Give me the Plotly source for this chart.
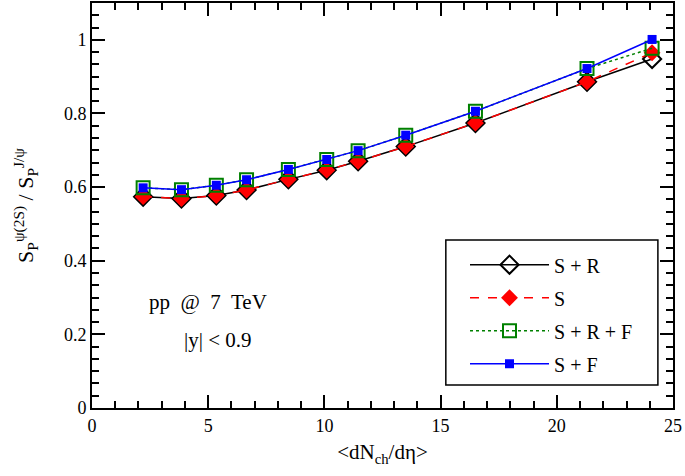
import plotly.graph_objects as go

dnch = [2.2, 3.85, 5.35, 6.65, 8.45, 10.1, 11.45, 13.5, 16.5, 21.3, 24.1]
s_r = [0.574, 0.569, 0.577, 0.592, 0.621, 0.646, 0.670, 0.710, 0.774, 0.886, 0.948]
s_only = [0.574, 0.569, 0.577, 0.592, 0.621, 0.646, 0.670, 0.710, 0.774, 0.886, 0.965]
s_r_f = [0.598, 0.593, 0.605, 0.620, 0.648, 0.675, 0.699, 0.741, 0.806, 0.922, 0.977]
s_f = [0.598, 0.593, 0.605, 0.620, 0.648, 0.675, 0.699, 0.741, 0.806, 0.922, 1.001]

names = ["S + R", "S", "S + R + F", "S + F"]

FONT = "Liberation Serif"

fig = go.Figure()
fig.add_trace(go.Scatter(x=dnch, y=s_r, name=names[0], mode="lines+markers",
                         line=dict(color="black", width=1.5),
                         marker=dict(symbol="diamond-open", size=14, color="black", line=dict(width=2)),
                         legendgroup="a"))
fig.add_trace(go.Scatter(x=dnch, y=s_only, name=names[1], mode="lines+markers",
                         line=dict(color="red", width=1.5, dash="dash"),
                         marker=dict(symbol="diamond", size=13, color="red"),
                         legendgroup="b"))
fig.add_trace(go.Scatter(x=dnch, y=s_r_f, name=names[2], mode="lines+markers",
                         line=dict(color="green", width=1.5, dash="dot"),
                         marker=dict(symbol="square-open", size=13, color="green", line=dict(width=2)),
                         legendgroup="c"))
fig.add_trace(go.Scatter(x=dnch, y=s_f, name=names[3], mode="lines+markers",
                         line=dict(color="blue", width=1.5),
                         marker=dict(symbol="square", size=9, color="blue"),
                         legendgroup="d"))

axis_common = dict(
    showgrid=False, zeroline=False, showline=True, linecolor="black", linewidth=2,
    mirror="allticks", ticks="inside", ticklen=13, tickwidth=2, tickcolor="black",
    tickfont=dict(family=FONT, size=18, color="black"), automargin=False,
)

fig.update_xaxes(range=[0, 25], dtick=5, tick0=0,
                 minor=dict(dtick=1, ticks="inside", ticklen=7, tickwidth=2, tickcolor="black"),
                 title=dict(text="&lt;dN<sub>ch</sub>/dη&gt;", font=dict(family=FONT, size=21, color="black"),
                            standoff=10),
                 **axis_common)
fig.update_yaxes(range=[0, 1.1], dtick=0.2, tick0=0, tickformat="~g",
                 minor=dict(dtick=0.2/6, ticks="inside", ticklen=7, tickwidth=2, tickcolor="black"),
                 title=dict(text="S<sub>P</sub><sup>ψ(2S)</sup> / S<sub>P</sub><sup>J/ψ</sup>",
                            font=dict(family=FONT, size=22, color="black"), standoff=24),
                 **axis_common)

fig.add_annotation(text="pp&nbsp; @&nbsp; 7&nbsp; TeV", x=2.37, y=0.288, xref="x", yref="y", showarrow=False,
                   font=dict(family=FONT, size=21, color="black"), xanchor="left")
fig.add_annotation(text="|y| &lt; 0.9", x=3.86, y=0.185, xref="x", yref="y", showarrow=False,
                   font=dict(family=FONT, size=21, color="black"), xanchor="left")

# legend frame
fig.add_shape(type="rect", xref="paper", yref="paper", x0=0.609, x1=0.974, y0=0.057, y1=0.415,
              line=dict(color="black", width=1.5), fillcolor="white", layer="below")

fig.update_layout(
    width=685, height=476,
    margin=dict(l=92, r=12, t=3, b=68),
    paper_bgcolor="white", plot_bgcolor="white",
    showlegend=True,
    legend=dict(x=0.642, y=0.402, xanchor="left", yanchor="top",
                borderwidth=0, bgcolor="rgba(0,0,0,0)",
                font=dict(family=FONT, size=20, color="black"),
                tracegroupgap=4, itemwidth=79),
)

fig.write_html("out.html", config={"displayModeBar": False},
               post_script="document.body.style.margin='0';")
